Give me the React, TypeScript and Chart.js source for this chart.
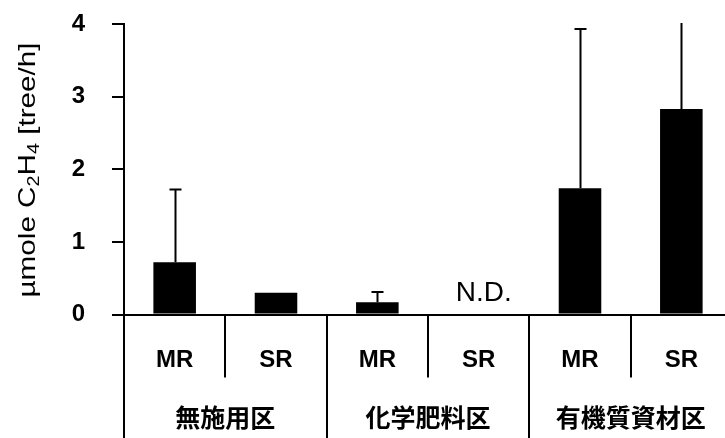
import React, { useEffect, useRef } from "react";
import { Chart, registerables } from "chart.js";

Chart.register(...registerables);

// Root type (MR / SR) for each bar, grouped by fertilisation plot
const categories = ["MR", "SR", "MR", "SR", "MR", "SR"];
const groups = ["無施用区", "化学肥料区", "有機質資材区"];
// Ethylene production, µmole C2H4 per tree per hour (null = not detected)
const values: (number | null)[] = [0.72, 0.3, 0.17, null, 1.74, 2.83];
// Standard deviation shown as upward error bars
const errors: (number | null)[] = [1.0, null, 0.14, null, 2.19, 1.65];
const yTicks = [0, 1, 2, 3, 4];
const notDetectedLabel = "N.D.";

const SANS = "'Liberation Sans', Arial, sans-serif";
const CJK = "'Noto Sans CJK JP', sans-serif";

const annotations = {
  id: "annotations",
  afterDraw(chart: any) {
    const { ctx, chartArea, scales } = chart;
    const xs = scales.x;
    const ys = scales.y;
    const H = chart.height;
    const meta = chart.getDatasetMeta(0);
    const centers = categories.map((_, i) => xs.getPixelForValue(i));
    const step = centers[1] - centers[0];

    ctx.save();
    ctx.strokeStyle = "#000";
    ctx.fillStyle = "#000";
    ctx.lineWidth = 2;

    // y-axis continues down through the label table
    ctx.beginPath();
    ctx.moveTo(chartArea.left, chartArea.bottom);
    ctx.lineTo(chartArea.left, H);
    ctx.stroke();

    // table separators between bars and between plots
    for (let i = 1; i < categories.length; i++) {
      const x = Math.round(centers[i] - step / 2);
      ctx.beginPath();
      ctx.moveTo(x, chartArea.bottom);
      ctx.lineTo(x, i % 2 === 0 ? H : chartArea.bottom + 63);
      ctx.stroke();
    }

    // plot names
    ctx.font = `bold 25px ${CJK}`;
    ctx.textAlign = "center";
    ctx.textBaseline = "middle";
    groups.forEach((g, gi) => {
      const cx = (centers[gi * 2] + centers[gi * 2 + 1]) / 2;
      ctx.fillText(g, cx, chartArea.bottom + 103);
    });

    // error bars (upper half only), clipped at the top of the axis
    ctx.save();
    ctx.beginPath();
    ctx.rect(chartArea.left, chartArea.top - 1, chartArea.right - chartArea.left, chartArea.bottom - chartArea.top + 1);
    ctx.clip();
    values.forEach((v, i) => {
      const e = errors[i];
      if (v === null || e === null) return;
      const bar = meta.data[i];
      const x = Math.round(bar.x) + 0.5;
      const y0 = ys.getPixelForValue(v);
      const y1 = ys.getPixelForValue(v + e);
      ctx.lineWidth = 2;
      ctx.beginPath();
      ctx.moveTo(x, y0);
      ctx.lineTo(x, y1);
      ctx.stroke();
      ctx.beginPath();
      ctx.moveTo(x - 6, y1);
      ctx.lineTo(x + 6, y1);
      ctx.stroke();
    });
    ctx.restore();

    // not-detected marker
    ctx.font = `28px ${SANS}`;
    ctx.textAlign = "center";
    ctx.textBaseline = "alphabetic";
    values.forEach((v, i) => {
      if (v === null) ctx.fillText(notDetectedLabel, centers[i] + 5, chartArea.bottom - 14);
    });

    // y-axis title with subscripts, rotated
    const parts: [string, boolean][] = [
      ["µmole C", false],
      ["2", true],
      ["H", false],
      ["4", true],
      [" [tree/h]", false],
    ];
    const size = 24;
    const subSize = 16;
    let total = 0;
    const widths = parts.map(([t, sub]) => {
      ctx.font = `${sub ? subSize : size}px ${SANS}`;
      const w = ctx.measureText(t).width;
      total += w;
      return w;
    });
    const targetLen = 255;
    const stretch = targetLen / total;
    ctx.translate(28, 170);
    ctx.rotate(-Math.PI / 2);
    ctx.scale(stretch, 1);
    ctx.textAlign = "left";
    ctx.textBaseline = "middle";
    let px = -total / 2;
    parts.forEach(([t, sub], k) => {
      ctx.font = `${sub ? subSize : size}px ${SANS}`;
      ctx.fillText(t, px, sub ? 7 : 0);
      px += widths[k];
    });
    ctx.restore();
  },
};

export default function App() {
  const ref = useRef<HTMLCanvasElement | null>(null);

  useEffect(() => {
    document.body.style.margin = "0";
    const canvas = ref.current;
    if (!canvas) return;
    const chart = new Chart(canvas, {
      type: "bar",
      data: {
        labels: categories,
        datasets: [
          {
            data: values as any,
            backgroundColor: "#000",
            borderWidth: 0,
            barPercentage: 0.42,
            categoryPercentage: 1,
          },
        ],
      },
      options: {
        responsive: false,
        animation: false,
        devicePixelRatio: 1,
        layout: { padding: { top: 24, right: 8, left: 0, bottom: 0 } },
        plugins: {
          legend: { display: false },
          tooltip: { enabled: false },
        },
        scales: {
          x: {
            grid: { display: false },
            border: { display: true, color: "#000", width: 2 },
            ticks: {
              color: "#000",
              font: { family: SANS, size: 24, weight: "bold" },
              padding: 23,
              maxRotation: 0,
            },
            afterFit: (s: any) => {
              s.height = 123.5;
            },
          },
          y: {
            min: 0,
            max: 4,
            afterBuildTicks: (s: any) => {
              s.ticks = yTicks.map((v) => ({ value: v }));
            },
            grid: {
              display: true,
              drawOnChartArea: false,
              drawTicks: true,
              tickLength: 12,
              color: "#000",
              lineWidth: 2,
            },
            border: { display: true, color: "#000", width: 2 },
            ticks: {
              color: "#000",
              font: { family: SANS, size: 24, weight: "bold" },
              padding: 27,
            },
            afterFit: (s: any) => {
              s.width = 124;
              s.paddingTop = 12;
              s.paddingBottom = 12;
            },
          },
        },
      },
      plugins: [annotations],
    });
    return () => chart.destroy();
  }, []);

  return (
    <div
      style={{
        position: "fixed",
        left: 0,
        top: 0,
        width: 725,
        height: 438,
        overflow: "hidden",
        background: "#fff",
      }}
    >
      <canvas ref={ref} width={740} height={438} style={{ width: 740, height: 438, display: "block" }} />
    </div>
  );
}
